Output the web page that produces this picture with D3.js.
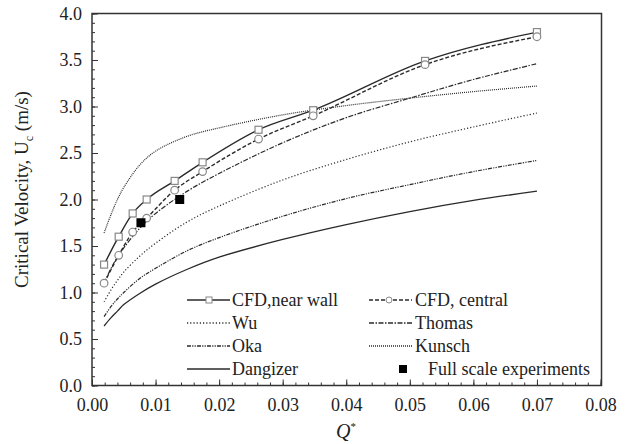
<!DOCTYPE html>
<html>
<head>
<meta charset="utf-8">
<script src="https://cdn.jsdelivr.net/npm/d3@7"></script>
<style>
  body { margin: 0; background: #fff; }
  svg text { font-family: "Liberation Serif", "Times New Roman", serif; fill: #222; }
</style>
</head>
<body>
<script>
// values
var qCfd = [0.0019, 0.0042, 0.0064, 0.0086, 0.0130, 0.0174, 0.0262, 0.0348, 0.0524, 0.0700];
var cfdWall = [1.30, 1.60, 1.85, 2.00, 2.20, 2.40, 2.75, 2.96, 3.49, 3.80];
var cfdCentral = [1.10, 1.40, 1.65, 1.80, 2.10, 2.30, 2.65, 2.90, 3.45, 3.75];

var qExp = [0.0077, 0.0138];
var fullScale = [1.75, 2.00];

var qCorr = [0.0019, 0.003, 0.004, 0.005, 0.0075, 0.01, 0.015, 0.02, 0.03, 0.04, 0.05, 0.06, 0.07];
var wu = [0.90, 1.03, 1.13, 1.22, 1.39, 1.53, 1.76, 1.93, 2.21, 2.43, 2.62, 2.78, 2.93];
var thomas = [1.10, 1.26, 1.38, 1.48, 1.69, 1.85, 2.09, 2.28, 2.61, 2.88, 3.09, 3.29, 3.46];
var oka = [0.74, 0.85, 0.93, 1.00, 1.15, 1.26, 1.45, 1.59, 1.82, 2.01, 2.16, 2.30, 2.42];
var kunsch = [1.64, 1.84, 2.00, 2.13, 2.37, 2.52, 2.68, 2.77, 2.91, 3.01, 3.09, 3.16, 3.22];
var dangizer = [0.64, 0.73, 0.80, 0.87, 0.99, 1.09, 1.25, 1.38, 1.57, 1.73, 1.87, 1.99, 2.09];

var xTicks = [0, 0.01, 0.02, 0.03, 0.04, 0.05, 0.06, 0.07, 0.08];
var yTicks = [0, 0.5, 1.0, 1.5, 2.0, 2.5, 3.0, 3.5, 4.0];

var w = 630, h = 444;
var mLeft = 92, mRight = 600.5, mTop = 13.5, mBottom = 385.5;
var serif = "'Liberation Serif', 'Times New Roman', serif";

var svg = d3.select("body").append("svg")
  .attr("width", w)
  .attr("height", h);

var xScale = d3.scaleLinear().domain([0, 0.08]).range([mLeft, mRight]);
var yScale = d3.scaleLinear().domain([0, 4]).range([mBottom, mTop]);

// minor ticks
svg.append("g")
  .attr("transform", "translate(0," + mBottom + ")")
  .call(d3.axisBottom(xScale).tickValues(d3.range(0, 0.0801, 0.002)).tickSize(-3).tickFormat(""))
  .call(g => g.select(".domain").remove())
  .selectAll("line").attr("stroke", "#333");

svg.append("g")
  .attr("transform", "translate(" + mLeft + ",0)")
  .call(d3.axisLeft(yScale).tickValues(d3.range(0, 4.01, 0.1)).tickSize(-3).tickFormat(""))
  .call(g => g.select(".domain").remove())
  .selectAll("line").attr("stroke", "#333");

// major ticks
var xAxis = svg.append("g")
  .attr("transform", "translate(0," + mBottom + ")")
  .call(d3.axisBottom(xScale).tickValues(xTicks).tickSize(-6).tickPadding(13).tickFormat(d3.format(".2f")));
xAxis.attr("font-family", serif).attr("font-size", 18);
xAxis.select(".domain").remove();
xAxis.selectAll("line").attr("stroke", "#333");
xAxis.selectAll("text").attr("fill", "#222");

var yAxis = svg.append("g")
  .attr("transform", "translate(" + mLeft + ",0)")
  .call(d3.axisLeft(yScale).tickValues(yTicks).tickSize(-6).tickPadding(10).tickFormat(d3.format(".1f")));
yAxis.attr("font-family", serif).attr("font-size", 18);
yAxis.select(".domain").remove();
yAxis.selectAll("line").attr("stroke", "#333");
yAxis.selectAll("text").attr("fill", "#222");

// frame
svg.append("rect")
  .attr("x", mLeft)
  .attr("y", mTop)
  .attr("width", mRight - mLeft + 1)
  .attr("height", mBottom - mTop)
  .attr("fill", "none")
  .attr("stroke", "#333")
  .attr("stroke-width", 1.5);

// series
var series = [
  { name: "Wu", q: qCorr, v: wu, dash: "1.2,2", width: 1.2, smooth: true },
  { name: "Thomas", q: qCorr, v: thomas, dash: "5,1.5,1.5,1.5", width: 1.2, smooth: true },
  { name: "Oka", q: qCorr, v: oka, dash: "4,1.2,1.2,1.2,1.2,1.2", width: 1.2, smooth: true },
  { name: "Kunsch", q: qCorr, v: kunsch, dash: "1,1", width: 1.2, smooth: true },
  { name: "Dangizer", q: qCorr, v: dangizer, dash: null, width: 1.3, smooth: true },
  { name: "CFD,near wall", q: qCfd, v: cfdWall, dash: null, width: 1.4 },
  { name: "CFD, central", q: qCfd, v: cfdCentral, dash: "4,2", width: 1.4 }
];

var line = d3.line()
  .x(function(d) { return xScale(d[0]); })
  .y(function(d) { return yScale(d[1]); });

series.forEach(function(s) {
  line.curve(s.smooth ? d3.curveCatmullRom.alpha(0.5) : d3.curveMonotoneX);
  svg.append("path")
    .datum(d3.zip(s.q, s.v))
    .attr("d", line)
    .attr("fill", "none")
    .attr("stroke", "#2a2a2a")
    .attr("stroke-width", s.width)
    .attr("stroke-dasharray", s.dash);
});

// markers
svg.selectAll(".wall")
  .data(d3.zip(qCfd, cfdWall))
  .enter().append("rect")
  .attr("class", "wall")
  .attr("x", function(d) { return xScale(d[0]) - 3.5; })
  .attr("y", function(d) { return yScale(d[1]) - 3.5; })
  .attr("width", 7)
  .attr("height", 7)
  .attr("fill", "#fff")
  .attr("stroke", "#888")
  .attr("stroke-width", 1.2);

svg.selectAll(".central")
  .data(d3.zip(qCfd, cfdCentral))
  .enter().append("circle")
  .attr("class", "central")
  .attr("cx", function(d) { return xScale(d[0]); })
  .attr("cy", function(d) { return yScale(d[1]); })
  .attr("r", 3.8)
  .attr("fill", "#fff")
  .attr("stroke", "#888")
  .attr("stroke-width", 1.2);

svg.selectAll(".exp")
  .data(d3.zip(qExp, fullScale))
  .enter().append("rect")
  .attr("class", "exp")
  .attr("x", function(d) { return xScale(d[0]) - 4.5; })
  .attr("y", function(d) { return yScale(d[1]) - 4.5; })
  .attr("width", 9)
  .attr("height", 9)
  .attr("fill", "#000");

// legend
var legendItems = [
  { name: "CFD,near wall", dash: null, mark: "square", col: 0, row: 0 },
  { name: "CFD, central", dash: "4,2", mark: "circle", col: 1, row: 0 },
  { name: "Wu", dash: "1.2,2", col: 0, row: 1 },
  { name: "Thomas", dash: "5,1.5,1.5,1.5", col: 1, row: 1 },
  { name: "Oka", dash: "4,1.2,1.2,1.2,1.2,1.2", col: 0, row: 2 },
  { name: "Kunsch", dash: "1,1", col: 1, row: 2 },
  { name: "Dangizer", dash: null, col: 0, row: 3 },
  { name: "Full scale experiments", dash: null, mark: "filled", col: 1, row: 3 }
];

var legend = svg.selectAll(".legend")
  .data(legendItems)
  .enter().append("g")
  .attr("class", "legend")
  .attr("transform", function(d) { return "translate(" + (d.col ? 369 : 187) + "," + (300 + d.row * 23) + ")"; });

legend.filter(function(d) { return d.mark != "filled"; })
  .append("line")
  .attr("x1", 0).attr("x2", 43)
  .attr("stroke", "#2a2a2a")
  .attr("stroke-width", 1.3)
  .attr("stroke-dasharray", function(d) { return d.dash; });

legend.filter(function(d) { return d.mark == "square"; })
  .append("rect")
  .attr("x", 19).attr("y", -3).attr("width", 6).attr("height", 6)
  .attr("fill", "#fff").attr("stroke", "#888");

legend.filter(function(d) { return d.mark == "circle"; })
  .append("circle")
  .attr("cx", 20).attr("r", 3)
  .attr("fill", "#fff").attr("stroke", "#888");

legend.filter(function(d) { return d.mark == "filled"; })
  .append("rect")
  .attr("x", 30).attr("y", -4).attr("width", 8).attr("height", 8)
  .attr("fill", "#000");

legend.append("text")
  .attr("x", function(d) { return d.mark == "filled" ? 59 : (d.col ? 46 : 45); })
  .attr("dy", "0.33em")
  .attr("font-family", serif)
  .attr("font-size", 18)
  .text(function(d) { return d.name; });

// axis titles
var yTitle = svg.append("text")
  .attr("transform", "translate(28," + ((mTop + mBottom) / 2 - 10) + ") rotate(-90)")
  .attr("text-anchor", "middle")
  .attr("font-family", serif)
  .attr("font-size", 19);
yTitle.append("tspan").text("Critical Velocity, U");
yTitle.append("tspan").attr("dy", 5).attr("font-size", 12).text("c");
yTitle.append("tspan").attr("dy", -5).text(" (m/s)");

var xTitle = svg.append("text")
  .attr("x", 346)
  .attr("y", 438)
  .attr("text-anchor", "middle")
  .attr("font-family", serif)
  .attr("font-size", 20);
xTitle.append("tspan").attr("font-style", "italic").text("Q");
xTitle.append("tspan").attr("dy", -8).attr("font-size", 11).text("*");
</script>
</body>
</html>
